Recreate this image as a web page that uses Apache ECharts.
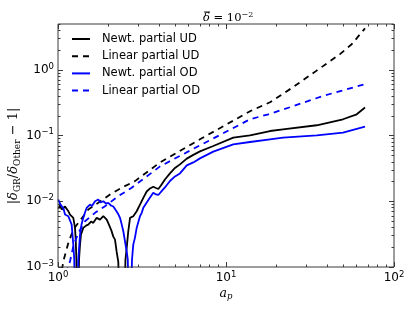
<!DOCTYPE html>
<html><head><meta charset="utf-8">
<script src="https://cdn.jsdelivr.net/npm/echarts@6/dist/echarts.min.js"></script>
<style>html,body{margin:0;padding:0;background:#fff}#c{width:415px;height:312px}</style>
</head><body><div id="c"></div>
<script>
// ---- data ----
const seriesNames = ['Newt. partial UD', 'Linear partial UD', 'Newt. partial OD', 'Linear partial OD'];

const newtUD_a = [1.007,1.028,1.052,1.075,1.101,1.127,1.155,1.179,1.211,1.233,1.262,1.275,1.287,1.297,1.325,1.334,1.352,1.370,1.414,1.468,1.514,1.572,1.623,1.699,1.778,1.861,1.950,1.998,2.04,2.08,2.134,2.184,2.234,2.285,2.32,2.488,2.52,2.564,2.620,2.684,2.806,2.94,3.076,3.22,3.373,3.53,3.69,3.83,3.955,4.10,4.33,4.64,4.97,5.32,5.84,6.39,7.0,8.40,11.05,13.9,18.28,21.84,34.7,49.7,60.0,67.2];
const newtUD_v = [7.76e-3,8.63e-3,7.5e-3,7.5e-3,8.33e-3,7.96e-3,6.98e-3,6.29e-3,6.51e-3,5.6e-3,3.98e-3,2.61e-3,1.29e-3,3e-4,4e-4,1.29e-3,2.19e-3,3.11e-3,3.94e-3,4.27e-3,4.42e-3,4.92e-3,4.70e-3,5.6e-3,5.27e-3,5.93e-3,5.27e-3,4.58e-3,4.42e-3,3.58e-3,2.90e-3,2.61e-3,1.71e-3,1.20e-3,3e-4,3e-4,1.29e-3,1.95e-3,3.5e-3,5.6e-3,5.93e-3,7.06e-3,8.93e-3,0.0113,0.0141,0.0157,0.01665,0.01596,0.0154,0.0174,0.0215,0.0266,0.0322,0.0365,0.0446,0.0509,0.0576,0.0694,0.0932,0.101,0.1175,0.1248,0.1437,0.1774,0.211,0.268];

const linUD_a = [1.056,1.075,1.152,1.233,1.321,1.515,1.738,2.04,2.394,2.872,4.05,7.0,13.9,18.28,25.05,34.3,47.7,56.2,67.2];
const linUD_v = [9e-4,1.22e-3,2.32e-3,3.71e-3,4.70e-3,7.5e-3,9.5e-3,0.0127,0.0161,0.0203,0.0391,0.0878,0.235,0.322,0.546,0.959,1.74,2.48,4.3];

const newtOD_a = [1.004,1.021,1.035,1.056,1.078,1.101,1.124,1.152,1.179,1.206,1.233,1.250,1.262,1.306,1.321,1.352,1.380,1.414,1.448,1.482,1.55,1.594,1.661,1.738,1.79,1.861,1.931,1.992,2.068,2.134,2.184,2.234,2.291,2.339,2.388,2.448,2.505,2.564,2.603,2.63,2.72,2.757,2.806,2.872,2.94,3.013,3.076,3.15,3.22,3.373,3.53,3.69,3.83,3.955,4.14,4.33,4.64,4.97,5.32,5.84,6.39,7.0,8.40,11.05,13.9,18.28,21.84,34.7,49.7,67.2];
const newtOD_v = [0.01065,9.59e-3,8.93e-3,9.25e-3,7.77e-3,6.29e-3,6.51e-3,5.93e-3,5.66e-3,4.42e-3,2.19e-3,1.29e-3,3e-4,3e-4,1.29e-3,3.11e-3,4.42e-3,5.6e-3,6.75e-3,7.96e-3,8.93e-3,8.48e-3,0.01003,0.01065,9.59e-3,0.01003,9.25e-3,9.48e-3,8.63e-3,8.33e-3,7.77e-3,6.98e-3,6.29e-3,5.6e-3,4.58e-3,3.5e-3,2.46e-3,1.73e-3,1.29e-3,3e-4,3e-4,1.29e-3,2.19e-3,2.8e-3,3.94e-3,4.92e-3,5.93e-3,6.67e-3,7.96e-3,9.59e-3,0.01143,0.01349,0.0127,0.01248,0.01426,0.01626,0.0204,0.0239,0.0266,0.0352,0.0391,0.045,0.057,0.0736,0.0799,0.0878,0.0932,0.101,0.111,0.137];

const linOD_a = [1.12,1.179,1.233,1.321,1.448,1.661,1.905,2.285,2.746,4.05,7.0,13.9,17.86,25.05,37.3,67.2];
const linOD_v = [8e-4,1.22e-3,2.06e-3,3.30e-3,4.97e-3,6.67e-3,8.42e-3,0.01197,0.0161,0.034,0.0711,0.1774,0.211,0.280,0.398,0.607];

// axis ticks
const xMajor = [1, 10, 100];
const xMinor = [2,3,4,5,6,7,8,9,20,30,40,50,60,70,80,90];
const yMajor = [1e-3, 1e-2, 1e-1, 1];
const yMinor = [2e-3,3e-3,4e-3,5e-3,6e-3,7e-3,8e-3,9e-3,2e-2,3e-2,4e-2,5e-2,6e-2,7e-2,8e-2,9e-2,0.2,0.3,0.4,0.5,0.6,0.7,0.8,0.9,2,3,4,5];
const xRange = [1, 100];
const yRange = [1e-3, 5];

// ---- chart ----
const zip = (a, v) => a.map((x, i) => [x, v[i]]);
const FONT = 'DejaVu Sans';
const SERIF = 'DejaVu Serif';
const AX = '#3a3a3a';
const labelFmt = v => { const e = Math.round(Math.log10(v)); return '{b|10}{s|' + (e < 0 ? '\u2212' + (-e) : e) + '}'; };
const labelRich = {
  b: {fontSize: 12, fontFamily: FONT, color: '#000'},
  s: {fontSize: 8.5, fontFamily: FONT, color: '#000', padding: [0, 0, 7, 0]}
};

function mkX(grid, pos, ticks, len, showLabel) {
  return {
    type: 'log', logBase: 10, min: xRange[0], max: xRange[1], position: pos, gridIndex: grid,
    axisLine: {show: false},
    axisTick: {show: true, inside: true, length: len, customValues: ticks, lineStyle: {color: AX, width: 1}},
    axisLabel: {show: showLabel, customValues: ticks, formatter: labelFmt, rich: labelRich, margin: 3},
    minorTick: {show: false}, splitLine: {show: false}
  };
}
function mkY(grid, pos, ticks, len, showLabel) {
  return {
    type: 'log', logBase: 10, min: yRange[0], max: yRange[1], position: pos, gridIndex: grid,
    axisLine: {show: false},
    axisTick: {show: true, inside: true, length: len, customValues: ticks, lineStyle: {color: AX, width: 1}},
    axisLabel: {show: showLabel, customValues: ticks, formatter: labelFmt, rich: labelRich, margin: 4},
    minorTick: {show: false}, splitLine: {show: false}
  };
}

const dash = [6, 5];
const lineSeries = (name, data, color, type) => ({
  name, type: 'line', data, xAxisIndex: 0, yAxisIndex: 0,
  symbol: 'none', showSymbol: false, clip: true, silent: true, animation: false,
  lineStyle: {color, width: 1.8, type}, itemStyle: {color}
});

const G = {left: 58, right: 21, top: 24, bottom: 45, containLabel: false};
const chart = echarts.init(document.getElementById('c'), null, {renderer: 'canvas'});
chart.setOption({
  animation: false,
  backgroundColor: '#fff',
  grid: [
    Object.assign({show: true, borderColor: AX, borderWidth: 1, backgroundColor: 'rgba(0,0,0,0)', z: 5}, G),
    Object.assign({show: false}, G)
  ],
  xAxis: [
    mkX(0, 'bottom', xMajor, 5, true),
    mkX(0, 'top', xMajor, 5, false),
    mkX(1, 'bottom', xMinor, 2.5, false),
    mkX(1, 'top', xMinor, 2.5, false)
  ],
  yAxis: [
    mkY(0, 'left', yMajor, 5, true),
    mkY(0, 'right', yMajor, 5, false),
    mkY(1, 'left', yMinor, 2.5, false),
    mkY(1, 'right', yMinor, 2.5, false)
  ],
  legend: {
    orient: 'vertical', left: 71, top: 33, padding: 0, itemWidth: 18, itemHeight: 10, itemGap: 5.2,
    itemStyle: {color: 'rgba(0,0,0,0)', borderColor: 'rgba(0,0,0,0)', borderWidth: 0, opacity: 0},
    textStyle: {fontSize: 11.5, fontFamily: FONT, color: '#000', padding: [0, 0, 0, 7]},
    data: seriesNames
  },
  graphic: [
    {type: 'text', x: 203, y: 18, silent: true, style: {
      text: '{d|\u03B4}{n| = 10}{s|\u22122}', align: 'left', verticalAlign: 'middle',
      rich: {
        d: {fontSize: 11.5, lineHeight: 14, fontFamily: SERIF, fontStyle: 'italic', fill: '#000'},
        n: {fontSize: 11.5, lineHeight: 14, fontFamily: SERIF, fill: '#000'},
        s: {fontSize: 8, lineHeight: 9, fontFamily: SERIF, fill: '#000', verticalAlign: 'top'}
      }}},
    {type: 'line', silent: true, shape: {x1: 204, y1: 12, x2: 210, y2: 12}, style: {stroke: '#000', lineWidth: 0.9}},
    {type: 'text', x: 226, y: 294, silent: true, style: {
      text: '{i|a}{p|p}', align: 'center', verticalAlign: 'middle',
      rich: {
        i: {fontSize: 12.5, lineHeight: 14, fontFamily: SERIF, fontStyle: 'italic', fill: '#000'},
        p: {fontSize: 8.5, lineHeight: 9, fontFamily: SERIF, fontStyle: 'italic', fill: '#000', verticalAlign: 'bottom'}
      }}},
    {type: 'text', x: 14, y: 156, rotation: Math.PI / 2, silent: true, style: {
      text: '{n||}{d|\u03B4}{u|GR}{n|/}{d|\u03B4}{u|Other}{n| \u2212 1|}', align: 'center', verticalAlign: 'middle',
      rich: {
        n: {fontSize: 13, lineHeight: 16, fontFamily: SERIF, fill: '#000'},
        d: {fontSize: 13, lineHeight: 16, fontFamily: SERIF, fontStyle: 'italic', fill: '#000'},
        u: {fontSize: 9, lineHeight: 10, fontFamily: SERIF, fill: '#000', verticalAlign: 'bottom'}
      }}}
  ],
  series: [
    lineSeries(seriesNames[0], zip(newtUD_a, newtUD_v), '#000000', 'solid'),
    lineSeries(seriesNames[1], zip(linUD_a, linUD_v), '#000000', dash),
    lineSeries(seriesNames[2], zip(newtOD_a, newtOD_v), '#0000ff', 'solid'),
    lineSeries(seriesNames[3], zip(linOD_a, linOD_v), '#0000ff', dash)
  ]
});
</script></body></html>
